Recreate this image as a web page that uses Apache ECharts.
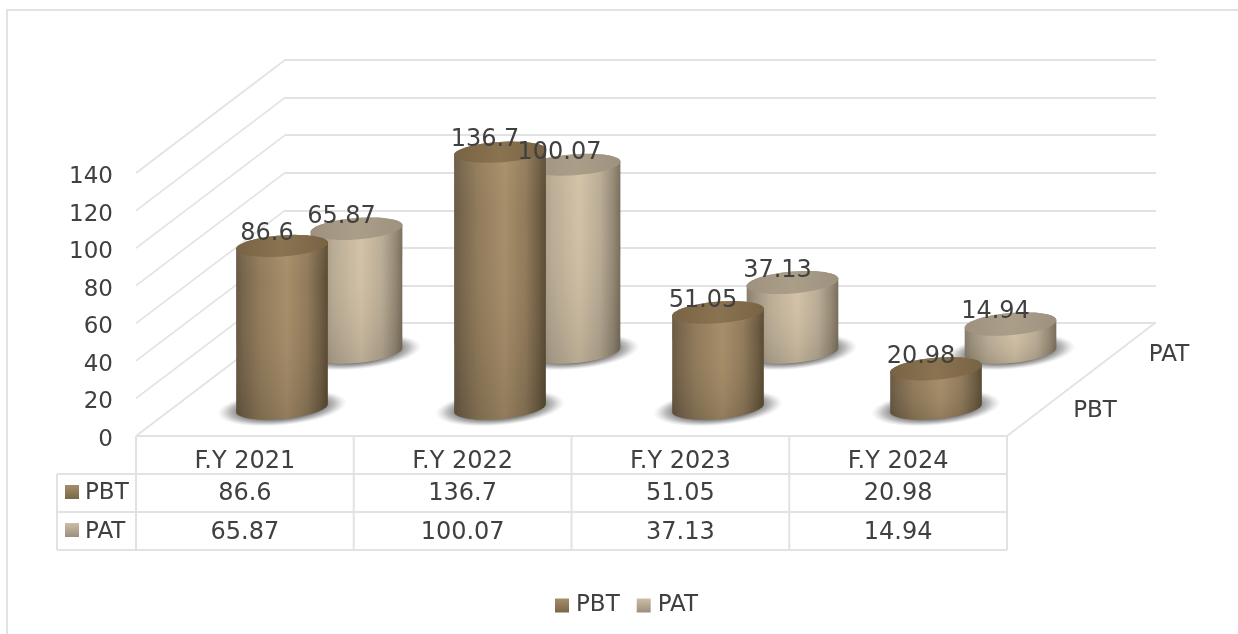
<!DOCTYPE html>
<html><head><meta charset="utf-8">
<style>html,body{margin:0;padding:0;background:#fff}#c{width:1238px;height:634px}</style>
<script src="https://cdn.jsdelivr.net/npm/echarts@6/dist/echarts.min.js"></script></head>
<body><div id="c"></div>
<script>
const categories = ['F.Y 2021','F.Y 2022','F.Y 2023','F.Y 2024'];
const PBT = [86.6,136.7,51.05,20.98];
const PAT = [65.87,100.07,37.13,14.94];
const yTicks = [0,20,40,60,80,100,120,140];
const FONT = '"DejaVu Sans"', TXT = '#404040', LINE = '#e2e2e2', FS = 23, FSV = 24;
const chart = echarts.init(document.getElementById('c'), null, {renderer:'canvas'});
const lg = (x,y,x2,y2,stops)=>({type:'linear',x,y,x2,y2,colorStops:stops.map(c=>({offset:c[0],color:c[1]}))});
const PAL = {
  PBT:{body:[[0,'#665640'],[0.08,'#75634b'],[0.25,'#8d7858'],[0.55,'#a58c68'],[0.78,'#8d7858'],[0.92,'#6c5b42'],[1,'#54472f']],
       top:['#786344','#8a7350'], key:lg(0,0,0,1,[[0,'#a48e6c'],[1,'#7a6647']])},
  PAT:{body:[[0,'#857b6a'],[0.08,'#9a8f7c'],[0.25,'#b8ab95'],[0.55,'#d2c1a6'],[0.78,'#b8ab95'],[0.92,'#938874'],[1,'#756b59']],
       top:['#9e927f','#ab9e89'], key:lg(0,0,0,1,[[0,'#cdbda5'],[1,'#9a8f7c']])}
};
const RX = 46;
function ellipsePts(cx,cy,rx,ry,ang,from,to,n){
  const p=[];const c=Math.cos(ang),s=Math.sin(ang);
  for(let i=0;i<=n;i++){const t=from+(to-from)*i/n;const x=rx*Math.cos(t),y=ry*Math.sin(t);
    p.push([cx+x*c-y*s,cy+x*s+y*c]);}
  return p;
}
function cylinderRender(pal){
  return function(params,api){
    const v=api.value(1);
    const top=api.coord([api.value(0),v]), base=api.coord([api.value(0),0]);
    const cx=base[0];
    const frac=v/140;
    const angB=-5.2*Math.PI/180, angT=(-5.2+1.6*frac)*Math.PI/180;
    const ryB=11, ryT=11.2-1*frac;
    const lower=ellipsePts(cx,base[1],RX,ryB,angB,0,Math.PI,32);
    const upper=ellipsePts(cx,top[1],RX,ryT,angT,Math.PI,2*Math.PI,32);
    const outline=lower.concat(upper);
    const capPts=ellipsePts(cx,top[1],RX,ryT,angT,0,2*Math.PI,64);
    return {type:'group',children:[
      {type:'circle',shape:{cx:0,cy:0,r:65},x:cx,y:base[1],scaleX:1,scaleY:0.27,rotation:-angB,
        style:{fill:new echarts.graphic.RadialGradient(0.5,0.5,0.5,[
          {offset:0,color:'rgba(80,80,80,0.85)'},{offset:0.65,color:'rgba(95,95,95,0.8)'},{offset:0.82,color:'rgba(130,130,130,0.5)'},{offset:1,color:'rgba(180,180,180,0)'}])}},
      {type:'polygon',shape:{points:outline},style:{fill:lg(0,0,1,0,pal.body)}},
      {type:'polygon',shape:{points:outline},style:{fill:lg(0,0,0,1,[[0,'rgba(255,225,180,0.08)'],[0.25,'rgba(255,225,180,0.02)'],[1,'rgba(0,0,0,0.12)']])}},
      {type:'polygon',shape:{points:capPts},style:{fill:lg(0,0,1,0,[[0,pal.top[0]],[0.5,pal.top[1]],[1,pal.top[0]]])}}
    ]};
  };
}
function labelRender(params,api){
  const p=api.coord([api.value(0),api.value(1)]);
  return {type:'text',x:p[0]-15,y:p[1]-12,style:{text:String(api.value(1)),fill:TXT,font:FSV+'px '+FONT,align:'center',verticalAlign:'middle'}};
}
const idx=a=>a.map((v,i)=>[i,v]);
function wallRender(params,api){
  const p=api.coord([0,api.value(1)]);
  const band=api.size([1,0])[0];
  const x=p[0]-band/2;
  return {type:'line',shape:{x1:x,y1:p[1],x2:x+149,y2:p[1]-113},style:{stroke:LINE,lineWidth:1.6}};
}
function tableRender(params,api){
  const p=api.coord([api.value(0),0]);
  const band=api.size([1,0])[0];
  const l=p[0]-band/2, r=p[0]+band/2, b=p[1];
  const st={stroke:LINE,lineWidth:2};
  const t=(s,x,y,size,align)=>({type:'text',x,y,style:{text:s,fill:TXT,font:(size||FSV)+'px '+FONT,align:align||'center',verticalAlign:'middle'}});
  const kids=[
    {type:'line',shape:{x1:l,y1:b,x2:r,y2:b},style:st},
    {type:'line',shape:{x1:l,y1:b+38,x2:r,y2:b+38},style:st},
    {type:'line',shape:{x1:l,y1:b+76,x2:r,y2:b+76},style:st},
    {type:'line',shape:{x1:l,y1:b+114,x2:r,y2:b+114},style:st},
    {type:'line',shape:{x1:r,y1:b,x2:r,y2:b+114},style:st},
    t(categories[api.value(0)],p[0],b+25.5,24),
    t(String(PBT[api.value(0)]),p[0],b+57.5),
    t(String(PAT[api.value(0)]),p[0],b+96.5)
  ];
  if(api.value(0)===0){
    kids.push({type:'line',shape:{x1:l,y1:b,x2:l,y2:b+114},style:st});
    kids.push({type:'line',shape:{x1:57,y1:b+38,x2:l,y2:b+38},style:st});
    kids.push({type:'line',shape:{x1:57,y1:b+76,x2:l,y2:b+76},style:st});
    kids.push({type:'line',shape:{x1:57,y1:b+114,x2:l,y2:b+114},style:st});
    kids.push({type:'line',shape:{x1:57,y1:b+38,x2:57,y2:b+114},style:st});
    kids.push({type:'rect',shape:{x:65,y:b+49,width:14,height:14},style:{fill:PAL.PBT.key}});
    kids.push({type:'rect',shape:{x:65,y:b+87,width:14,height:14},style:{fill:PAL.PAT.key}});
    kids.push(t('PBT',85,b+57.5,FS,'left'));
    kids.push(t('PAT',85,b+96.5,FS,'left'));
  }
  if(api.value(0)===categories.length-1){
    kids.push({type:'line',shape:{x1:r,y1:b,x2:r+148,y2:b-113},style:{stroke:LINE,lineWidth:1.6}});
  }
  return {type:'group',children:kids};
}
const xHidden=(gi)=>({type:'category',gridIndex:gi,data:categories,show:false});
const yHidden=(gi)=>({type:'value',gridIndex:gi,min:0,max:140,interval:20,show:false});
chart.setOption({
  animation:false,
  backgroundColor:'#fff',
  graphic:[
    {type:'polyline',z:0,shape:{points:[[7,640],[7,10],[1240,10]]},style:{fill:'none',stroke:LINE,lineWidth:2}},
    {type:'text',z:1,x:1095,y:411,style:{text:'PBT',fill:TXT,font:FS+'px '+FONT,align:'center',verticalAlign:'middle'}},
    {type:'text',z:1,x:1169,y:355,style:{text:'PAT',fill:TXT,font:FS+'px '+FONT,align:'center',verticalAlign:'middle'}}
  ],
  grid:[
    {left:136,width:871,top:173,height:263},
    {left:285,width:871,top:60,height:263},
    {left:173,width:872,top:146,height:262},
    {left:247.5,width:872,top:90,height:262}
  ],
  xAxis:[xHidden(0),xHidden(1),xHidden(2),xHidden(3)],
  yAxis:[
    {type:'value',gridIndex:0,min:0,max:140,interval:20,axisLine:{show:false},axisTick:{show:false},splitLine:{show:false},
      axisLabel:{color:TXT,fontFamily:FONT,fontSize:FS,margin:23,padding:[0,0,0,0],verticalAlignMaxLabel:'middle',verticalAlignMinLabel:'middle',
        lineHeight:30,formatter:v=>yTicks.includes(v)?'{a|'+v+'}':'',rich:{a:{color:TXT,fontFamily:FONT,fontSize:FS,padding:[8,0,0,0]}}}},
    {type:'value',gridIndex:1,min:0,max:140,interval:20,axisLine:{show:false},axisTick:{show:false},axisLabel:{show:false},
      splitLine:{show:true,lineStyle:{color:LINE,width:2}}},
    yHidden(2),yHidden(3)
  ],
  legend:{left:555,top:594,padding:0,itemWidth:14,itemHeight:14,itemGap:17,icon:'rect',
    textStyle:{color:TXT,fontFamily:FONT,fontSize:FS,padding:[0,0,0,2]},
    data:[{name:'PBT',itemStyle:{color:PAL.PBT.key}},{name:'PAT',itemStyle:{color:PAL.PAT.key}}]},
  series:[
    {type:'custom',name:'walls',coordinateSystem:'cartesian2d',xAxisIndex:0,yAxisIndex:0,z:1,silent:true,clip:false,
      encode:{x:0,y:1},data:yTicks.map(v=>[0,v]),renderItem:wallRender},
    {type:'custom',name:'table',coordinateSystem:'cartesian2d',xAxisIndex:0,yAxisIndex:0,z:1,silent:true,clip:false,
      data:categories.map((c,i)=>[i]),encode:{x:0},renderItem:tableRender},
    {type:'custom',name:'PAT',xAxisIndex:3,yAxisIndex:3,z:3,clip:false,data:idx(PAT),encode:{x:0,y:1},renderItem:cylinderRender(PAL.PAT)},
    {type:'custom',name:'PBT',xAxisIndex:2,yAxisIndex:2,z:4,clip:false,data:idx(PBT),encode:{x:0,y:1},renderItem:cylinderRender(PAL.PBT)},
    {type:'custom',name:'PAT values',xAxisIndex:3,yAxisIndex:3,z:5,clip:false,data:idx(PAT),encode:{x:0,y:1},renderItem:labelRender},
    {type:'custom',name:'PBT values',xAxisIndex:2,yAxisIndex:2,z:6,clip:false,data:idx(PBT),encode:{x:0,y:1},renderItem:labelRender}
  ]
});
</script></body></html>
